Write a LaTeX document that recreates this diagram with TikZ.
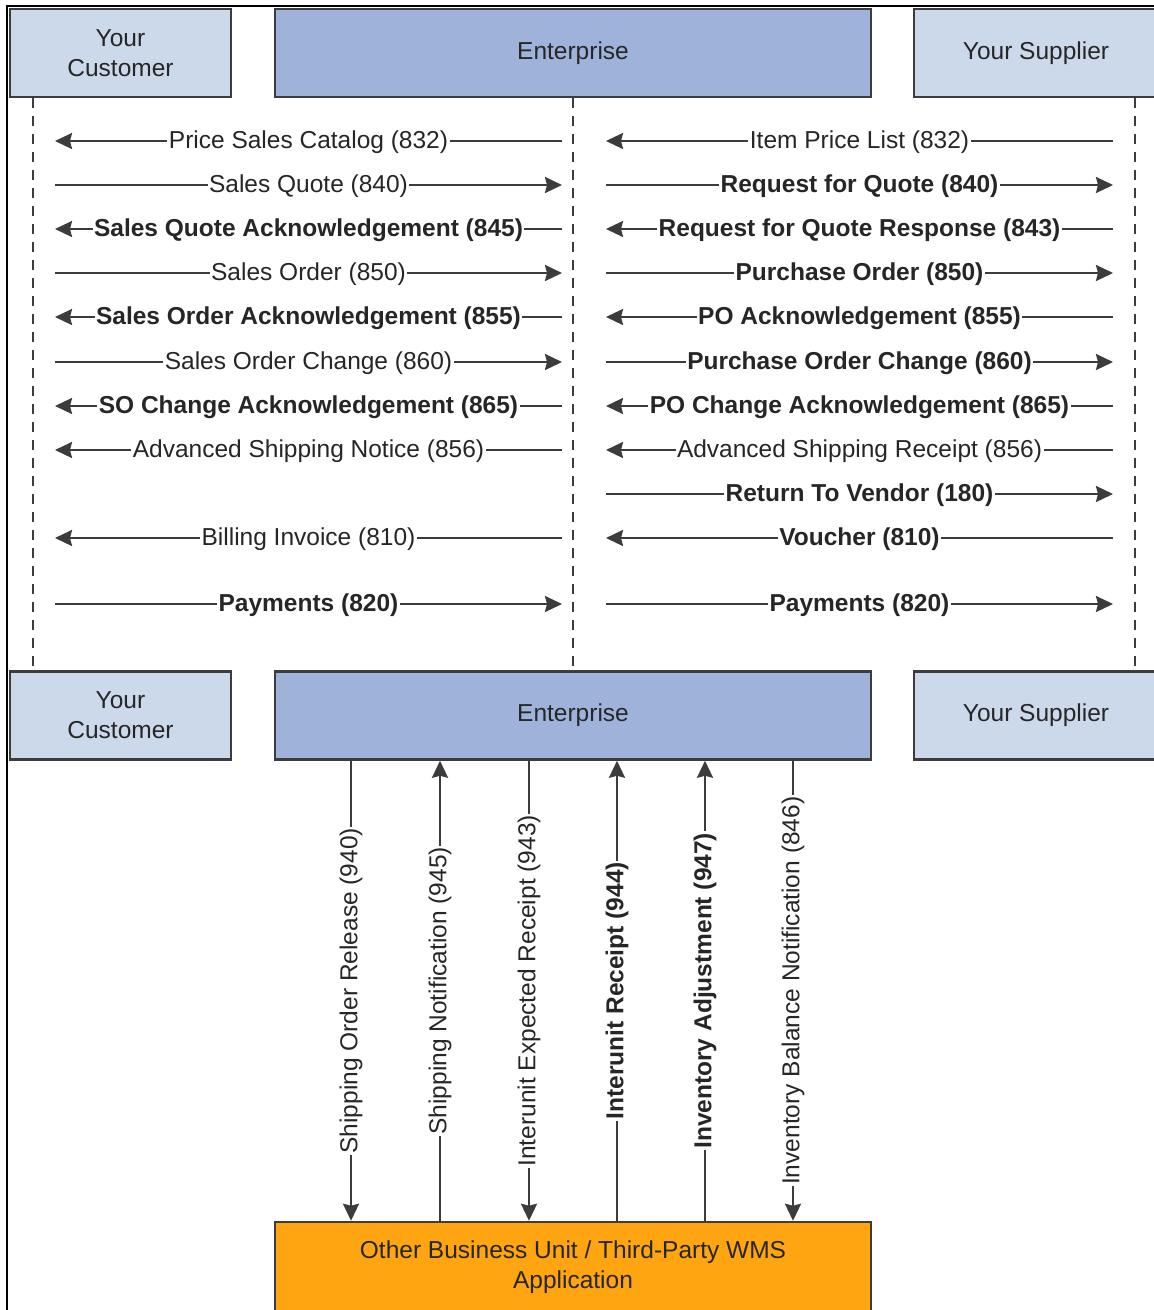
\documentclass[tikz,border=0pt]{standalone}
\usepackage{fontspec}
\setmainfont{Liberation Sans}
\usetikzlibrary{arrows.meta}
\definecolor{boxlight}{RGB}{204,217,235}
\definecolor{boxent}{RGB}{159,179,218}
\definecolor{boxorange}{RGB}{255,165,17}
\definecolor{ink}{RGB}{60,60,60}
\definecolor{txt}{RGB}{38,38,38}
\begin{document}
\begin{tikzpicture}[x=1pt,y=-1pt,
  every node/.style={text=txt},
  fn/.style={font=\fontsize{24.5}{30}\selectfont},
  fb/.style={font=\fontsize{24.5}{30}\selectfont\bfseries},
  party/.style={draw=ink, line width=2.5pt, fill=boxlight, minimum height=88pt,
    align=center, inner sep=0pt, fn},
  ent/.style={party, fill=boxent},
  wms/.style={party, fill=boxorange},
  life/.style={ink, line width=2.5pt, dash pattern=on 10pt off 8pt},
  msg/.style={ink, line width=2.4pt, -{Stealth[length=17pt,width=16pt,inset=2pt]}},
  lbl/.style={fill=white, inner xsep=1.5pt, inner ysep=1pt},
  hl/.style={lbl, yshift=-1.5pt}
]
\useasboundingbox (0,0) rectangle (1154,1310);
\clip (0,0) rectangle (1154,1310);
\fill[white] (0,0) rectangle (1154,1310);
% outer frame
\draw[black, line width=1.5pt] (7,1312) -- (7,6) -- (1156,6);

% top row
\node[party, minimum width=221pt] (custT) at (120.5,53) {Your\\Customer};
\node[ent, minimum width=596pt] (entT) at (573,53) {Enterprise};
\node[party, minimum width=244pt] (supT) at (1036,53) {Your Supplier};
% bottom row
\node[party, minimum width=221pt] (custB) at (120.5,715.5) {Your\\Customer};
\node[ent, minimum width=596pt] (entB) at (573,715.5) {Enterprise};
\node[party, minimum width=244pt] (supB) at (1036,715.5) {Your Supplier};
% WMS
\node[wms, minimum width=596pt, minimum height=90pt] (wms) at (573,1267) {Other Business Unit / Third-Party WMS\\Application};

% lifelines
\coordinate (lc) at (33,0);
\coordinate (le) at (573,0);
\coordinate (ls) at (1135,0);
\draw[life] (custT.south -| lc) -- (custB.north -| lc);
\draw[life] (entT.south -| le) -- (entB.north -| le);
\draw[life] (supT.south -| ls) -- (supB.north -| ls);

% messages
\foreach \y/\a/\b/\s/\t in {
  141/562/55/fn/Price Sales Catalog (832),
  185/55/562/fn/Sales Quote (840),
  229/562/55/fb/Sales Quote Acknowledgement (845),
  273/55/562/fn/Sales Order (850),
  317/562/55/fb/Sales Order Acknowledgement (855),
  362/55/562/fn/Sales Order Change (860),
  406/562/55/fb/SO Change Acknowledgement (865),
  450/562/55/fn/Advanced Shipping Notice (856),
  538/562/55/fn/Billing Invoice (810),
  604/55/562/fb/Payments (820),
  141/1113/606/fn/Item Price List (832),
  185/606/1113/fb/Request for Quote (840),
  229/1113/606/fb/Request for Quote Response (843),
  273/606/1113/fb/Purchase Order (850),
  317/1113/606/fb/PO Acknowledgement (855),
  362/606/1113/fb/Purchase Order Change (860),
  406/1113/606/fb/PO Change Acknowledgement (865),
  450/1113/606/fn/Advanced Shipping Receipt (856),
  494/606/1113/fb/Return To Vendor (180),
  538/1113/606/fb/Voucher (810),
  604/606/1113/fb/Payments (820)}
{
  \coordinate (ma) at (\a,\y);
  \coordinate (mb) at (\b,\y);
  \draw[msg] (ma) -- node[hl,\s] {\t} (mb);
}

% vertical messages
\foreach \x/\d/\s/\t in {
  351/d/fn/Shipping Order Release (940),
  440/u/fn/Shipping Notification (945),
  529/d/fn/Interunit Expected Receipt (943),
  617/u/fb/Interunit Receipt (944),
  705/u/fb/Inventory Adjustment (947),
  793/d/fn/Inventory Balance Notification (846)}
{
  \coordinate (vx) at (\x,0);
  \if\d d
    \draw[msg] (entB.south -| vx) -- node[lbl,\s,rotate=90] {\t} (wms.north -| vx);
  \else
    \draw[msg] (wms.north -| vx) -- node[lbl,\s,rotate=90] {\t} (entB.south -| vx);
  \fi
}
\end{tikzpicture}
\end{document}
